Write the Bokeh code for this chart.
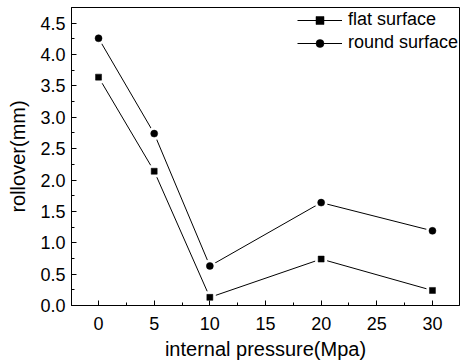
from bokeh.plotting import figure
from bokeh.models import Range1d, FixedTicker, PrintfTickFormatter, Legend, LegendItem
from bokeh.embed import file_html
from bokeh.resources import INLINE

pressure = [0, 5, 10, 20, 30]
flat_surface = [3.64, 2.14, 0.13, 0.74, 0.24]
round_surface = [4.26, 2.74, 0.63, 1.64, 1.19]
x_ticks = [0, 5, 10, 15, 20, 25, 30]
y_ticks = [0.0, 0.5, 1.0, 1.5, 2.0, 2.5, 3.0, 3.5, 4.0, 4.5]

FONT = "Liberation Sans"

p = figure(width=460, height=362, output_backend="svg", toolbar_location=None,
           x_range=Range1d(-2.43, 32.43), y_range=Range1d(0, 4.75),
           min_border_left=71, min_border_right=1, min_border_top=7, min_border_bottom=57)
p.grid.visible = False
p.outline_line_color = "black"
p.outline_line_width = 1
p.background_fill_color = "white"
p.border_fill_color = "white"

for ax in (p.xaxis[0], p.yaxis[0]):
    ax.axis_line_color = "black"
    ax.major_tick_in = 5
    ax.major_tick_out = 0
    ax.minor_tick_in = 3
    ax.minor_tick_out = 0
    ax.major_tick_line_color = "black"
    ax.minor_tick_line_color = "black"
    ax.major_label_text_font = FONT
    ax.major_label_text_font_size = "18px"
    ax.major_label_text_color = "black"
    ax.axis_label_text_font = FONT
    ax.axis_label_text_font_size = "20px"
    ax.axis_label_text_font_style = "normal"
    ax.axis_label_text_color = "black"

p.xaxis.ticker = FixedTicker(ticks=x_ticks, minor_ticks=[t + 2.5 for t in [-5] + x_ticks])
p.yaxis.ticker = FixedTicker(ticks=y_ticks, minor_ticks=[t + 0.25 for t in y_ticks])
p.yaxis.formatter = PrintfTickFormatter(format="%.1f")
p.xaxis.major_label_standoff = 11
p.yaxis.major_label_standoff = 6
p.xaxis.axis_label = "internal pressure(Mpa)"
p.yaxis.axis_label = "rollover(mm)"
p.xaxis.axis_label_standoff = 5
p.yaxis.axis_label_standoff = 8

items = []
for name, ys, marker, sz in (("flat surface", flat_surface, "square", 6),
                             ("round surface", round_surface, "circle", 7)):
    ln = p.line(pressure, ys, line_color="black", line_width=1)
    wm = p.scatter(pressure, ys, marker=marker, size=sz + 6, fill_color="white", line_color=None)
    bm = p.scatter(pressure, ys, marker=marker, size=sz, fill_color="black",
                   line_color="black", line_width=0.5)
    items.append(LegendItem(label=name, renderers=[ln, wm, bm]))

legend = Legend(items=items, location=(226, 252), margin=0, padding=0,
                glyph_width=45, glyph_height=20, label_height=20, spacing=2,
                label_standoff=6, label_text_font=FONT, label_text_font_size="18px",
                label_text_color="black", border_line_color=None,
                background_fill_alpha=0)
p.add_layout(legend)

open("out.html", "w").write(file_html(p, INLINE))
